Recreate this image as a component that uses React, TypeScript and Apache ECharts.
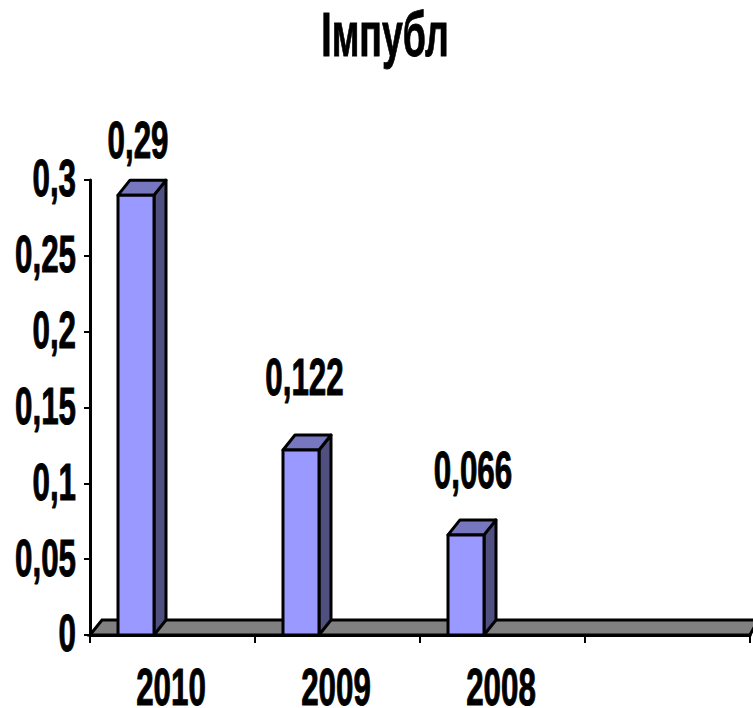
import React, { useEffect, useRef } from "react";
import * as echarts from "echarts";

const titleText = "Імпубл";
const categories = ["2010", "2009", "2008", ""];
const values = [0.29, 0.122, 0.066];
const yTickValues = [0, 0.05, 0.1, 0.15, 0.2, 0.25, 0.3];
const labelRise = [55, 72, 64];
const labelShift = [2, 3.5, 7];
const FONT = '"Liberation Sans", Arial, sans-serif';
const comma = (v: number) => String(v).replace(".", ",");

const narrowText = (text: string, x: number, y: number, align: string) => ({
  type: "text", x, y, scaleX: 0.87, scaleY: 1.42,
  style: {
    text, textAlign: align, textVerticalAlign: "middle", fill: "#000",
    stroke: "#000", lineWidth: 0.7, font: `bold 36px ${FONT}`,
  },
});

export default function App() {
  const ref = useRef<HTMLDivElement>(null);
  useEffect(() => {
    document.body.style.margin = "0";
    const chart = echarts.init(ref.current!, null, { renderer: "svg" });
    const DX = 12, DY = 15, W = 36, OFF = -54.5;
    chart.setOption({
      animation: false,
      backgroundColor: "#fff",
      graphic: [
        {
          type: "text", x: 385, y: 34, scaleX: 0.78, scaleY: 1.3,
          style: {
            text: titleText, textAlign: "center", textVerticalAlign: "middle", fill: "#000",
            stroke: "#000", lineWidth: 0.7, font: `bold 48px ${FONT}`,
          },
        },
      ],
      grid: { left: 90, right: 3, top: 180, bottom: 73 },
      xAxis: {
        type: "category", data: categories,
        axisLine: { lineStyle: { color: "#000", width: 3 } },
        axisTick: { show: true, length: 8, lineStyle: { color: "#000", width: 2 } },
        axisLabel: { show: false },
      },
      yAxis: {
        type: "value", min: 0, max: 0.3, interval: 0.05,
        splitLine: { show: false },
        axisLine: { show: true, lineStyle: { color: "#000", width: 3 } },
        axisTick: { show: true, length: 6, lineStyle: { color: "#000", width: 2 } },
        axisLabel: { show: false },
      },
      series: [
        {
          type: "custom", coordinateSystem: "cartesian2d", z: 1, silent: true, clip: false,
          data: [[0, 0]], encode: { x: 0, y: 1 },
          renderItem: (params: any) => {
            const c = params.coordSys;
            const l = c.x, b = c.y + c.height, r = c.x + c.width + 4;
            return {
              type: "polygon",
              shape: { points: [[l, b], [l + DX, b - DY], [r + 4, b - DY], [r - 4, b]] },
              style: { fill: "#808080", stroke: "#000", lineWidth: 3 },
            };
          },
        },
        {
          type: "custom", coordinateSystem: "cartesian2d", z: 3, silent: true, clip: false,
          data: values.map((v, i) => [i, v]), encode: { x: 0, y: 1 },
          renderItem: (params: any, api: any) => {
            const cat = api.value(0), val = api.value(1);
            const [cx, top] = api.coord([cat, val]);
            const [, bot] = api.coord([cat, 0]);
            const x0 = cx + OFF;
            const x1 = x0 + W;
            const style = { stroke: "#000", lineWidth: 3, lineJoin: "round" };
            return {
              type: "group",
              children: [
                { type: "polygon", shape: { points: [[x1, top], [x1 + DX, top - DY], [x1 + DX, bot - DY], [x1, bot]] }, style: { ...style, fill: "#4f4f80" } },
                { type: "polygon", shape: { points: [[x0, top], [x0 + DX, top - DY], [x1 + DX, top - DY], [x1, top]] }, style: { ...style, fill: "#7777bf" } },
                { type: "rect", shape: { x: x0, y: top, width: W, height: bot - top }, style: { ...style, fill: "#9999ff" } },
                narrowText(comma(val), x0 + W / 2 + labelShift[cat], top - labelRise[cat], "center"),
              ],
            };
          },
        },
        {
          type: "custom", coordinateSystem: "cartesian2d", z: 4, silent: true, clip: false,
          data: yTickValues.map((v) => [0, v]), encode: { x: 0, y: 1 },
          renderItem: (params: any, api: any) => {
            const v = api.value(1);
            const [, y] = api.coord([0, v]);
            return narrowText(comma(v), params.coordSys.x - 14, y - 1, "right");
          },
        },
        {
          type: "custom", coordinateSystem: "cartesian2d", z: 4, silent: true, clip: false,
          data: categories.slice(0, 3).map((_, i) => [i, 0]), encode: { x: 0, y: 1 },
          renderItem: (params: any, api: any) => {
            const i = api.value(0);
            const [x, y] = api.coord([i, 0]);
            return narrowText(categories[i], x - 1.5, y + 53, "center");
          },
        },
      ],
    });
    return () => chart.dispose();
  }, []);
  return <div ref={ref} style={{ width: 753, height: 708 }} />;
}
